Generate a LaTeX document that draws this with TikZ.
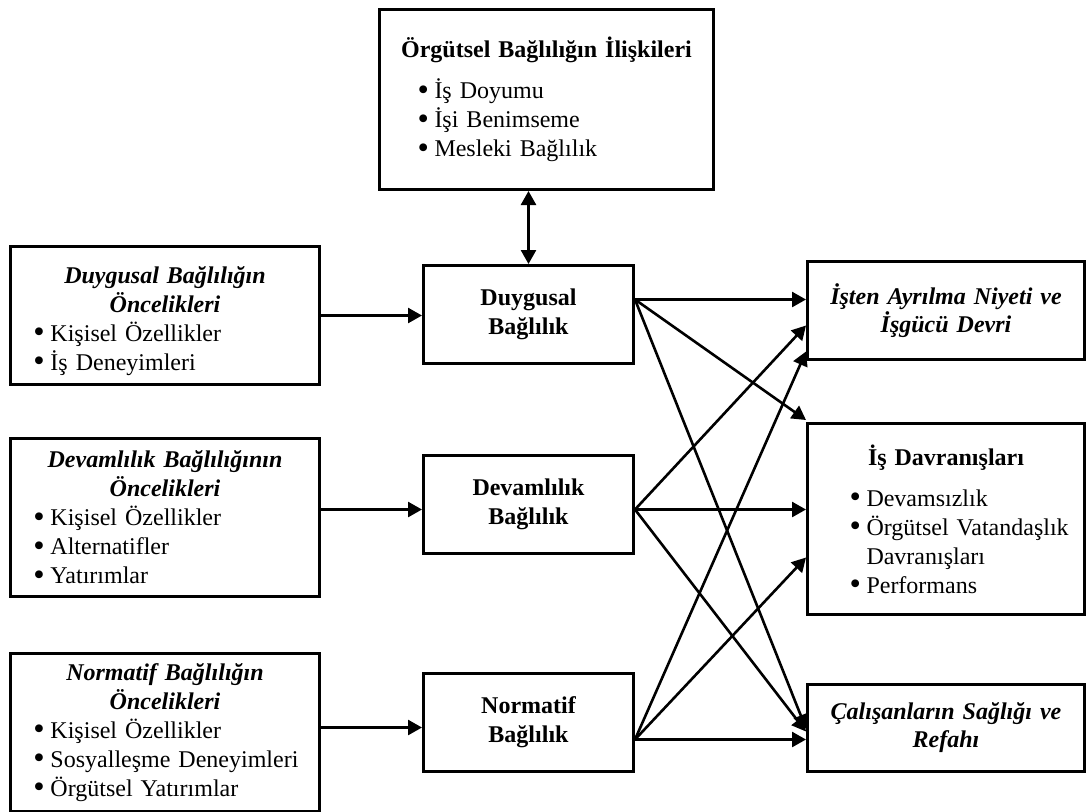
\documentclass[tikz,border=0pt]{standalone}
\usepackage{fontspec}
\usepackage{graphicx}
\setmainfont{Liberation Serif}
\usetikzlibrary{arrows.meta}

\newcommand{\mad}[2][11.5pt]{\par\noindent\hangindent=\dimexpr#1+8.5pt\relax\hangafter=1%
  \hspace*{#1}\makebox[8.5pt][l]{\smash{\raisebox{-0.12ex}{\scalebox{1.35}{\textbullet}}}}#2}

\begin{document}
\begin{tikzpicture}[x=0.5pt,y=-0.5pt,
    kutu/.style={draw,line width=1.5pt,inner sep=0pt,anchor=north west,align=left,
      font=\fontsize{12}{14.5}\selectfont},
    orta/.style={kutu,text width=105pt,minimum height=49pt,align=center,font=\fontsize{12}{14.5}\selectfont\bfseries},
    sag/.style={kutu,text width=138.5pt,align=center,font=\fontsize{12}{14}\selectfont\bfseries\itshape},
    ok/.style={line width=1.3pt,-{Triangle[length=7pt,width=7.5pt]}}]
  \useasboundingbox (0,0) rectangle (1088,811);

  \node[kutu,text width=167pt,minimum height=90pt] (rel) at (378,8)
    {{\centering\bfseries Örgütsel Bağlılığın İlişkileri\par}\vspace{6pt}
     \mad[19pt]{İş Doyumu}\mad[19pt]{İşi Benimseme}\mad[19pt]{Mesleki Bağlılık}};

  \node[kutu,text width=154.5pt,minimum height=69pt] (duyant) at (9,245)
    {{\centering\bfseries\itshape\rule{0pt}{14pt}Duygusal Bağlılığın\\Öncelikleri\par}
     \mad{Kişisel Özellikler}\mad{İş Deneyimleri}};
  \node[kutu,text width=154.5pt,minimum height=79pt] (devant) at (9,437)
    {{\centering\bfseries\itshape Devamlılık Bağlılığının\\Öncelikleri\par}
     \mad{Kişisel Özellikler}\mad{Alternatifler}\mad{Yatırımlar}};
  \node[kutu,text width=154.5pt,minimum height=79pt] (norant) at (9,652)
    {{\centering\bfseries\itshape Normatif Bağlılığın\\Öncelikleri\par}
     \mad{Kişisel Özellikler}\mad{Sosyalleşme Deneyimleri}\mad{Örgütsel Yatırımlar}};

  \node[orta] (duy) at (422,264) {Duygusal\\Bağlılık};
  \node[orta] (dev) at (422,454) {Devamlılık\\Bağlılık};
  \node[orta] (nor) at (422,672) {Normatif\\Bağlılık};

  \node[sag,minimum height=49pt] (ayr) at (806,260) {İşten Ayrılma Niyeti ve\\İşgücü Devri};
  \node[kutu,text width=138.5pt,minimum height=95.5pt] (dav) at (806,422)
    {{\centering\bfseries İş Davranışları\par}\vspace{6pt}
     \mad[21pt]{Devamsızlık}\mad[21pt]{Örgütsel Vatandaşlık\newline Davranışları}\mad[21pt]{Performans}};
  \node[sag,minimum height=43.5pt] (saglik) at (806,683) {Çalışanların Sağlığı ve\\Refahı};

  \draw[line width=1.3pt,{Triangle[length=7pt,width=7.5pt]}-{Triangle[length=7pt,width=7.5pt]}]
    (duy.north) -- (duy.north |- rel.south);

  \draw[ok] (duyant.east) -- (duyant.east -| duy.west);
  \draw[ok] ([yshift=4pt]devant.east) -- ([yshift=4pt]devant.east -| dev.west);
  \draw[ok] ([yshift=2.5pt]norant.east) -- ([yshift=2.5pt]norant.east -| nor.west);

  \draw[ok] ([yshift=7.5pt]duy.east) -- ([yshift=5.5pt]ayr.west);
  \draw[ok] ([yshift=7.5pt]duy.east) -- ([yshift=1pt]dav.north west);
  \draw[ok] ([yshift=7.5pt]duy.east) -- ([yshift=-0.25pt]saglik.west);

  \draw[ok] ([yshift=-2.5pt]dev.east) -- ([yshift=-7.5pt]ayr.west);
  \draw[ok] ([yshift=-2.5pt]dev.east) -- ([yshift=4.75pt]dav.west);
  \draw[ok] ([yshift=-2.5pt]dev.east) -- ([yshift=-1.75pt]saglik.west);

  \draw[ok] ([yshift=-8.5pt]nor.east) -- ([yshift=-20.5pt]ayr.west);
  \draw[ok] ([yshift=-8.5pt]nor.east) -- ([yshift=-19.25pt]dav.west);
  \draw[ok] ([yshift=-8.5pt]nor.east) -- ([yshift=-5.75pt]saglik.west);
\end{tikzpicture}
\end{document}
